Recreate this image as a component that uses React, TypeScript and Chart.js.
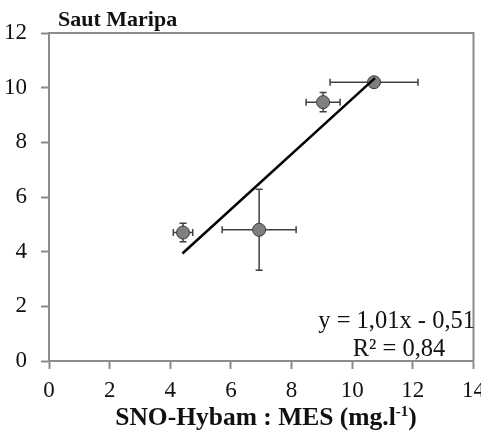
import React, { useEffect, useRef } from "react";
import { Chart, registerables } from "chart.js";

Chart.register(...registerables);

// Measurements at Saut Maripa: MES (mg/l) on x against the compared series on y
const xValues = [4.42, 6.93, 9.04, 10.72];
const yValues = [4.7, 4.8, 9.47, 10.2];
const xErrors = [0.32, 1.22, 0.56, 1.45];
const yErrors = [0.34, 1.48, 0.35, 0];

// Linear fit: y = 1,01x - 0,51, R² = 0,84
const slope = 1.01;
const intercept = -0.51;
const rSquared = "0,84";
const fitRange = [4.4, 10.75];

const xAxisRange = [0, 14];
const yAxisRange = [0, 12];
const tickStep = 2;

const chartTitle = "Saut Maripa";
const xTitleMain = "SNO-Hybam : MES (mg.l";
const xTitleSup = "-1";
const xTitleEnd = ")";

const SERIF = '"Liberation Serif", "Times New Roman", serif';
const AXIS_GRAY = "#8c8c8c";

const fmt = (v: number) => v.toFixed(2).replace(".", ",");

const decorations = {
  id: "decorations",
  beforeDatasetsDraw(chart: any) {
    const { ctx, scales } = chart;
    const xs = scales.x;
    const ys = scales.y;
    ctx.save();
    ctx.strokeStyle = "#404040";
    ctx.lineWidth = 1.5;
    const cap = 3.5;
    xValues.forEach((xv, i) => {
      const yv = yValues[i];
      const px = xs.getPixelForValue(xv);
      const py = ys.getPixelForValue(yv);
      if (xErrors[i] > 0) {
        const x0 = xs.getPixelForValue(xv - xErrors[i]);
        const x1 = xs.getPixelForValue(xv + xErrors[i]);
        ctx.beginPath();
        ctx.moveTo(x0, py);
        ctx.lineTo(x1, py);
        ctx.moveTo(x0, py - cap);
        ctx.lineTo(x0, py + cap);
        ctx.moveTo(x1, py - cap);
        ctx.lineTo(x1, py + cap);
        ctx.stroke();
      }
      if (yErrors[i] > 0) {
        const y0 = ys.getPixelForValue(yv - yErrors[i]);
        const y1 = ys.getPixelForValue(yv + yErrors[i]);
        ctx.beginPath();
        ctx.moveTo(px, y0);
        ctx.lineTo(px, y1);
        ctx.moveTo(px - cap, y0);
        ctx.lineTo(px + cap, y0);
        ctx.moveTo(px - cap, y1);
        ctx.lineTo(px + cap, y1);
        ctx.stroke();
      }
    });
    ctx.restore();
  },
  afterDraw(chart: any) {
    const { ctx, chartArea } = chart;
    const { left, right, top, bottom } = chartArea;
    ctx.save();

    // frame on the top and right sides
    ctx.strokeStyle = AXIS_GRAY;
    ctx.lineWidth = 2;
    ctx.beginPath();
    ctx.moveTo(left, top);
    ctx.lineTo(right, top);
    ctx.lineTo(right, bottom);
    ctx.stroke();

    ctx.fillStyle = "#111";
    ctx.textBaseline = "alphabetic";

    // chart title
    ctx.font = `bold 22px ${SERIF}`;
    ctx.textAlign = "left";
    ctx.fillText(chartTitle, 58, 26);

    // regression equation
    ctx.font = `24.5px ${SERIF}`;
    ctx.textAlign = "right";
    const sign = intercept < 0 ? "-" : "+";
    ctx.fillText(`y = ${fmt(slope)}x ${sign} ${fmt(Math.abs(intercept))}`, 475, 328);
    ctx.textAlign = "center";
    ctx.fillText(`R² = ${rSquared}`, 399, 356);

    // x axis title with superscript
    const mainFont = `bold 25.5px ${SERIF}`;
    const supFont = `bold 15px ${SERIF}`;
    ctx.font = mainFont;
    const wMain = ctx.measureText(xTitleMain).width;
    const wEnd = ctx.measureText(xTitleEnd).width;
    ctx.font = supFont;
    const wSup = ctx.measureText(xTitleSup).width;
    const total = wMain + wSup + wEnd;
    let x = 266 - total / 2;
    const base = 425;
    ctx.textAlign = "left";
    ctx.font = mainFont;
    ctx.fillText(xTitleMain, x, base);
    x += wMain;
    ctx.font = supFont;
    ctx.fillText(xTitleSup, x, base - 9);
    x += wSup;
    ctx.font = mainFont;
    ctx.fillText(xTitleEnd, x, base);

    ctx.restore();
  },
};

export default function App() {
  const canvasRef = useRef<HTMLCanvasElement | null>(null);

  useEffect(() => {
    document.body.style.margin = "0";
    const canvas = canvasRef.current;
    if (!canvas) return;

    const points = xValues.map((x, i) => ({ x, y: yValues[i] }));
    const fitLine = fitRange.map((x) => ({ x, y: slope * x + intercept }));

    const chart = new Chart(canvas, {
      type: "scatter",
      data: {
        datasets: [
          {
            type: "line",
            data: fitLine,
            borderColor: "#000",
            borderWidth: 2.5,
            pointRadius: 0,
            showLine: true,
            fill: false,
            order: 0,
          } as any,
          {
            data: points,
            backgroundColor: "#7f7f7f",
            borderColor: "#3a3a3a",
            borderWidth: 1,
            pointRadius: 6.5,
            order: 1,
          },
        ],
      },
      plugins: [decorations],
      options: {
        responsive: false,
        animation: false,
        layout: { padding: { left: 0, top: 33, right: 6, bottom: 0 } },
        plugins: {
          legend: { display: false },
          tooltip: { enabled: false },
          title: { display: false },
        },
        scales: {
          x: {
            type: "linear",
            min: xAxisRange[0],
            max: xAxisRange[1],
            border: { display: true, color: AXIS_GRAY, width: 2 },
            grid: {
              drawOnChartArea: false,
              drawTicks: true,
              tickLength: 8,
              tickColor: AXIS_GRAY,
              tickWidth: 2,
            },
            ticks: {
              stepSize: tickStep,
              padding: 8,
              color: "#111",
              font: { family: SERIF, size: 23 },
              maxRotation: 0,
            },
            afterFit(scale: any) {
              scale.height = 80;
              scale.paddingLeft = 0;
              scale.paddingRight = 0;
            },
          },
          y: {
            type: "linear",
            min: yAxisRange[0],
            max: yAxisRange[1],
            border: { display: true, color: AXIS_GRAY, width: 2 },
            grid: {
              drawOnChartArea: false,
              drawTicks: true,
              tickLength: 8,
              tickColor: AXIS_GRAY,
              tickWidth: 2,
            },
            ticks: {
              stepSize: tickStep,
              padding: 14,
              color: "#111",
              font: { family: SERIF, size: 23 },
            },
            afterFit(scale: any) {
              scale.width = 49;
              scale.paddingTop = 0;
              scale.paddingBottom = 0;
            },
          },
        },
      } as any,
    });

    return () => chart.destroy();
  }, []);

  return <canvas ref={canvasRef} width={481} height={441} style={{ display: "block" }} />;
}
